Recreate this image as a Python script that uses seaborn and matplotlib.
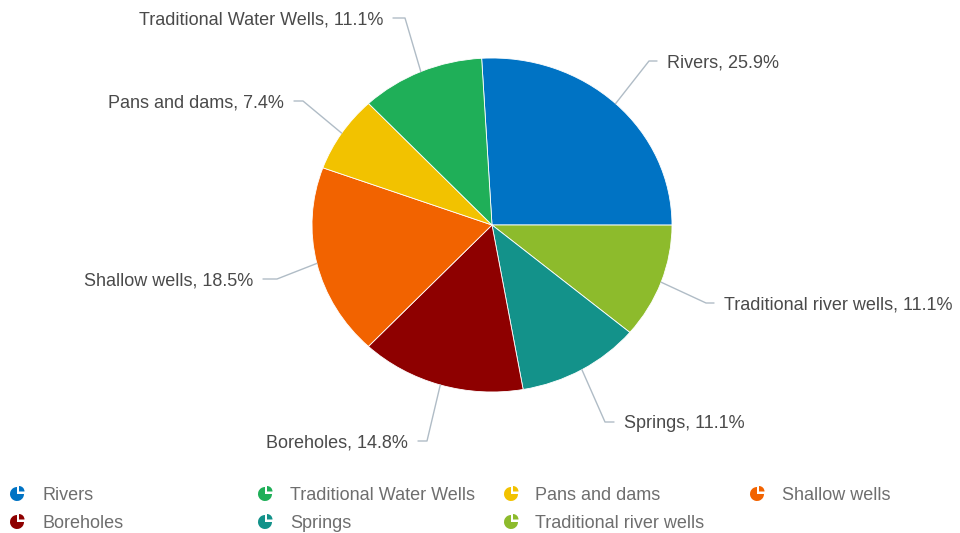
import numpy as np
import matplotlib
matplotlib.use("Agg")
import matplotlib.pyplot as plt
from matplotlib.patches import Wedge
import seaborn as sns

# ---- data (pie order, clockwise from 12 o'clock) ----
categories = ["Rivers", "Traditional river wells", "Springs", "Boreholes",
              "Shallow wells", "Pans and dams", "Traditional Water Wells"]
counts = [7, 3, 3, 4, 5, 2, 3]
colors = ["#0073C4", "#8DBB2C", "#13928A", "#8E0000",
          "#F26300", "#F2C200", "#1FAF58"]
legend_order = ["Rivers", "Traditional Water Wells", "Pans and dams", "Shallow wells",
                "Boreholes", "Springs", "Traditional river wells"]

sns.set_theme(style="white")
plt.rcParams["font.family"] = ["Liberation Sans", "DejaVu Sans"]
palette = sns.color_palette(colors)

W, H = 960, 533
fig = plt.figure(figsize=(W / 100, H / 100), dpi=100)
fig.patch.set_facecolor("white")

# pie axes (data coords: unit radius, stretched ellipse like the reference)
cx, cy, rx, ry = 492, 225, 180, 167
pax = fig.add_axes([0, 0, 1, 1])
wedges, _ = pax.pie(counts, colors=palette, startangle=93.3, counterclock=False,
                    radius=1, wedgeprops=dict(linewidth=0.6, edgecolor="white"))
pax.set_aspect("auto")
pax.set_xlim(-cx / rx, (W - cx) / rx)
pax.set_ylim((cy - H) / ry, cy / ry)
pax.axis("off")

# overlay axes in pixel coords (y down)
ox = fig.add_axes([0, 0, 1, 1], facecolor="none")
ox.set_xlim(0, W)
ox.set_ylim(H, 0)
ox.axis("off")

FS = 13
total = sum(counts)
# label layout: text anchor (x, y-centre), alignment, elbow x
layout = {
    "Rivers": (667, 61, "left", 649),
    "Traditional river wells": (724, 303, "left", 706),
    "Springs": (624, 422, "left", 605),
    "Boreholes": (408, 441, "right", 427),
    "Shallow wells": (253, 279, "right", 277),
    "Pans and dams": (284, 101, "right", 303),
    "Traditional Water Wells": (383, 18, "right", 405),
}
half_cap = 6.5  # baseline offset from visual centre
line_col = "#b0bcc6"
for w, name, c in zip(wedges, categories, counts):
    mid = np.deg2rad((w.theta1 + w.theta2) / 2)
    edge = np.array([np.cos(mid), np.sin(mid)])
    ex, ey = ox.transData.inverted().transform(pax.transData.transform(edge))
    tx, ty, ha, elx = layout[name]
    endx = tx - 10 if ha == "left" else tx + 10
    ox.plot([ex, elx, endx], [ey, ty, ty], color=line_col, lw=1.0,
            solid_joinstyle="round")
    ox.text(tx, ty + half_cap, f"{name}, {100 * c / total:.1f}%", ha=ha,
            va="baseline", fontsize=FS, color="#4a4a4a")

# legend (row-major, fixed column pitch)
col_icon = [17, 265, 511, 757]
col_text = [42, 290, 535, 782]
row_y = [493, 521]
cmap = dict(zip(categories, palette))
for i, name in enumerate(legend_order):
    r, cidx = divmod(i, 4)
    ix, iy = col_icon[cidx], row_y[r]
    col = cmap[name]
    ox.add_patch(Wedge((ix, iy + 1), 7.0, 0, 270, facecolor=col, edgecolor="none"))
    ox.add_patch(Wedge((ix + 2.0, iy - 1.5), 5.5, 270, 360, facecolor=col, edgecolor="none"))
    ox.text(col_text[cidx], iy + half_cap, name, ha="left", va="baseline",
            fontsize=FS, color="#6e6e6e")

fig.savefig("out.png", dpi=100, facecolor="white")
